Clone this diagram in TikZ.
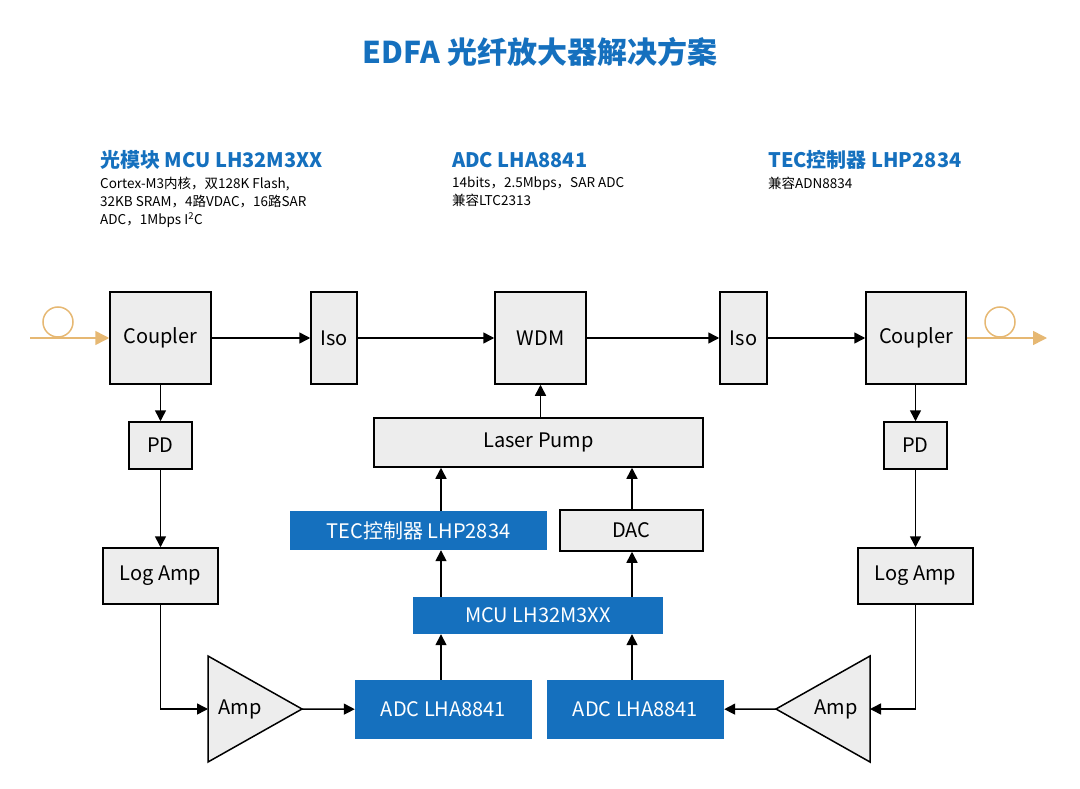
\documentclass[tikz,border=0pt]{standalone}
\usepackage{fontspec}
\setmainfont{Noto Sans CJK SC}
\usetikzlibrary{arrows.meta}
\definecolor{blu}{HTML}{1570BE}
\definecolor{gld}{HTML}{E6B873}
\definecolor{gbox}{HTML}{EDEDED}
\begin{document}
\begin{tikzpicture}[x=1pt,y=-1pt,
 box/.style={draw=black,line width=1.5pt,fill=gbox,font=\fontsize{20}{22}\selectfont,inner sep=0pt},
 bbox/.style={fill=blu,text=white,font=\fontsize{20}{22}\selectfont,inner sep=0pt},
 ar/.style={line width=1.5pt,-{Triangle[length=11pt,width=11pt]}},
 hd/.style={text=blu,font=\bfseries\fontsize{20}{22}\selectfont,anchor=west,inner sep=0pt},
 ds/.style={font=\fontsize{13.5}{18}\selectfont,anchor=north west,inner sep=0pt,align=left}]
\useasboundingbox (0,0) rectangle (1080,789);
\node[text=blu,font=\bfseries\fontsize{30}{34}\selectfont] (title) at (540,52) {EDFA 光纤放大器解决方案};
\node[hd] (h1) at (100,160) {光模块 MCU LH32M3XX};
\node[hd] (h2) at (452,160) {ADC LHA8841};
\node[hd] (h3) at (768,160) {TEC控制器 LHP2834};
\node[ds] (d1) at (100,177) {Cortex-M3内核，双128K Flash,\\32KB SRAM，4路VDAC，16路SAR\\ADC，1Mbps I\textsuperscript{2}C};
\node[ds] (d2) at (452,177) {14bits，2.5Mbps，SAR ADC\\兼容LTC2313};
\node[ds] (d3) at (768,177) {兼容ADN8834};
% boxes
\node[box,minimum width=101,minimum height=92] (c1) at (160.5,338) {Coupler};
\node[box,minimum width=46,minimum height=92] (i1) at (334,338) {Iso};
\node[box,minimum width=91,minimum height=92] (w) at (540.5,338) {WDM};
\node[box,minimum width=47,minimum height=92] (i2) at (743.5,338) {Iso};
\node[box,minimum width=100,minimum height=92] (c2) at (916,338) {Coupler};
\node[box,minimum width=63,minimum height=47] (p1) at (160.5,445.5) {PD};
\node[box,minimum width=63,minimum height=47] (p2) at (915.5,445.5) {PD};
\node[box,minimum width=115,minimum height=56] (l1) at (160.5,576) {Log Amp};
\node[box,minimum width=115,minimum height=56] (l2) at (915.5,576) {Log Amp};
\node[box,minimum width=329,minimum height=49] (lp) at (538.5,442.5) {Laser Pump};
\node[bbox,minimum width=257,minimum height=39] (tec) at (418.5,530.5) {TEC控制器 LHP2834};
\node[box,minimum width=143,minimum height=41] (dac) at (631.5,530.5) {DAC};
\node[bbox,minimum width=250,minimum height=37] (mcu) at (538,615.5) {MCU LH32M3XX};
\node[bbox,minimum width=177,minimum height=59] (a1) at (443.5,709.5) {ADC LHA8841};
\node[bbox,minimum width=177,minimum height=59] (a2) at (635.5,709.5) {ADC LHA8841};
% triangles
\draw[line width=1.5pt,fill=gbox] (208,656) -- (302,709) -- (208,762) -- cycle;
\node[font=\fontsize{20}{22}\selectfont] (amp1) at (240,709) {Amp};
\coordinate (t1in) at (208,709); \coordinate (t1out) at (302,709);
\draw[line width=1.5pt,fill=gbox] (870,656) -- (776,709) -- (870,762) -- cycle;
\node[font=\fontsize{20}{22}\selectfont] (amp2) at (836,709) {Amp};
\coordinate (t2in) at (870,709); \coordinate (t2out) at (776,709);
% fibers
\coordinate (fin) at (30,338); \coordinate (fout) at (1047,338);
\draw[gld,line width=1.5pt] (58,322) circle (15);
\draw[gld,line width=1.5pt,-{Triangle[length=14pt,width=14pt]}] (fin) -- (c1.west);
\draw[gld,line width=1.5pt] (1000,322) circle (15);
\draw[gld,line width=1.5pt,-{Triangle[length=14pt,width=14pt]}] (c2.east) -- (fout);
% connectors
\draw[ar] (c1) -- (i1);
\draw[ar] (i1) -- (w);
\draw[ar] (w) -- (i2);
\draw[ar] (i2) -- (c2);
\draw[ar] (c1) -- (p1);
\draw[ar] (c2.south -| p2) -- (p2);
\draw[ar] (p1) -- (l1);
\draw[ar] (p2) -- (l2);
\draw[ar] (l1.south) |- (t1in);
\draw[ar] (l2.south) |- (t2in);
\draw[ar] (t1out) -- (a1);
\draw[ar] (t2out) -- (a2);
\draw[ar] (lp.north -| w) -- (w);
\draw[ar] (a1.north -| 441,0) -- (mcu.south -| 441,0);
\draw[ar] (a2.north -| 632,0) -- (mcu.south -| 632,0);
\draw[ar] (mcu.north -| 441,0) -- (tec.south -| 441,0);
\draw[ar] (mcu.north -| 632,0) -- (dac.south -| 632,0);
\draw[ar] (tec.north -| 441,0) -- (lp.south -| 441,0);
\draw[ar] (dac.north -| 632,0) -- (lp.south -| 632,0);
\end{tikzpicture}
\end{document}
